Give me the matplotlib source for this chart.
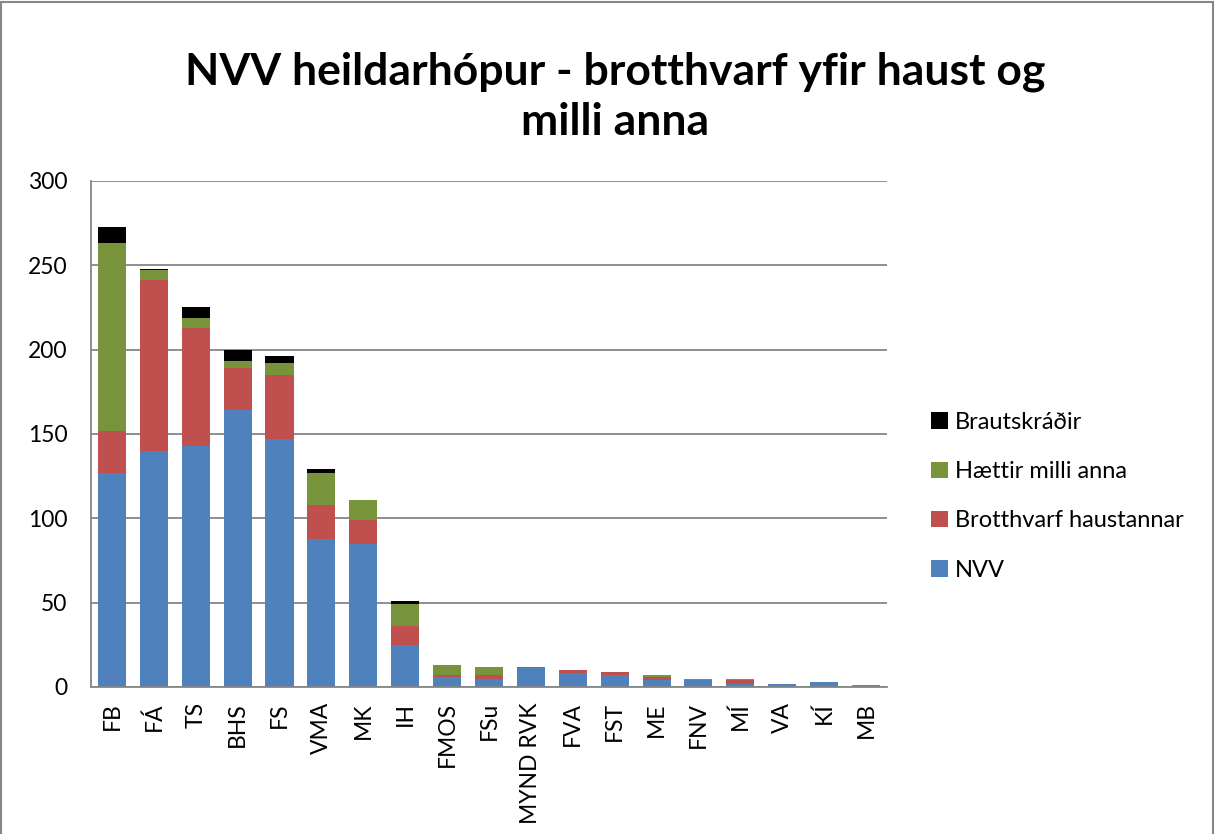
import matplotlib.pyplot as plt
import numpy as np

plt.rcParams['font.family'] = ['Lato', 'DejaVu Sans']

# data
schools = ["FB", "FÁ", "TS", "BHS", "FS", "VMA", "MK", "IH", "FMOS", "FSu",
           "MYND RVK", "FVA", "FST", "ME", "FNV", "MÍ", "VA", "KÍ", "MB"]
nvv = [127, 140, 143, 164, 147, 88, 85, 25, 6, 5, 11, 8, 7, 4, 4, 2, 2, 3, 0]
brotthvarf_haust = [25, 101, 70, 25, 38, 20, 14, 11, 1, 2, 1, 2, 2, 2, 0, 2, 0, 0, 0]
haettir_milli = [111, 6, 6, 4, 7, 19, 12, 13, 6, 5, 0, 0, 0, 1, 1, 1, 0, 0, 1]
brautskradir = [10, 1, 6, 7, 4, 2, 0, 2, 0, 0, 0, 0, 0, 0, 0, 0, 0, 0, 0]

series = [
    ("NVV", nvv, "#4F81BD"),
    ("Brotthvarf haustannar", brotthvarf_haust, "#C0504D"),
    ("Hættir milli anna", haettir_milli, "#77933C"),
    ("Brautskráðir", brautskradir, "#000000"),
]

fig = plt.figure(figsize=(12.15, 8.34), dpi=100)
ax = fig.add_axes([0.0749, 0.1763, 0.6551, 0.6067])

x = np.arange(len(schools))
bottom = np.zeros(len(schools))
handles = []
for name, vals, color in series:
    vals = np.array(vals, dtype=float)
    b = ax.bar(x, vals, width=0.67, bottom=bottom, color=color, label=name)
    handles.append(b)
    bottom += vals

ax.set_xlim(-0.5, len(schools) - 0.5)
ax.set_ylim(0, 300)
ax.set_yticks(range(0, 301, 50))
ax.yaxis.grid(True, color="#868686", linewidth=1.3)
ax.set_axisbelow(True)
ax.set_xticks(x)
ax.set_xticklabels(schools, rotation=90, fontsize=16.5)
ax.tick_params(axis="y", labelsize=16.5, length=0, pad=17)
ax.tick_params(axis="x", length=0, pad=11)
for s in ["top", "right"]:
    ax.spines[s].set_visible(False)
for s in ["left", "bottom"]:
    ax.spines[s].set_color("#868686")
    ax.spines[s].set_linewidth(1.3)

fig.text(0.506, 0.884, "NVV heildarhópur - brotthvarf yfir haust og\nmilli anna",
         ha="center", va="center", fontsize=32, fontweight="bold",
         linespacing=1.3)

leg = fig.legend(handles[::-1], [s[0] for s in series][::-1],
                 loc="center left", bbox_to_anchor=(0.749, 0.405),
                 frameon=False, fontsize=17, handlelength=0.7, handleheight=0.7,
                 handletextpad=0.3, labelspacing=1.2)

fig.patches.append(plt.Rectangle((0.001, -0.1), 0.997, 1.098, transform=fig.transFigure,
                                 fill=False, edgecolor="#868686", linewidth=1.5))

fig.savefig("out.png", dpi=100)
